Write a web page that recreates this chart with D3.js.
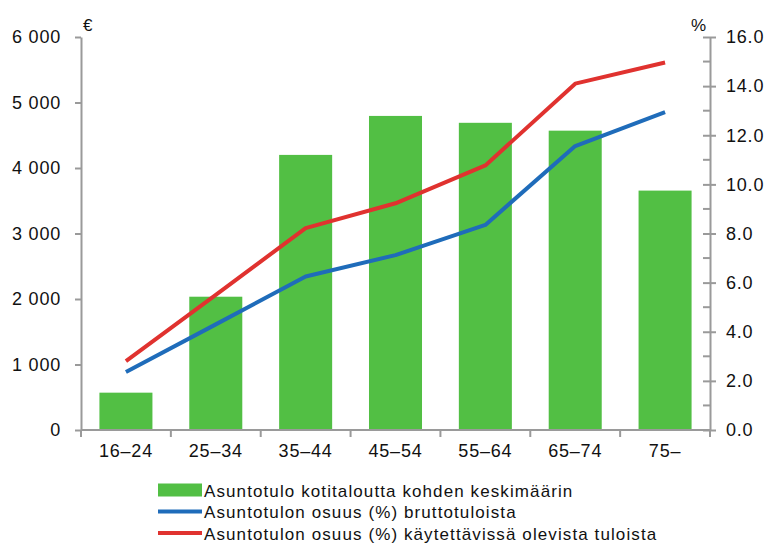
<!DOCTYPE html>
<meta charset="utf-8">
<html>
  <head>
    <style>
      body { margin: 0; background: #fff; }
      text { font-family: "Liberation Sans", Arial, sans-serif; fill: #111; }
      .axis path, .axis line { stroke: #9a9a9a; stroke-width: 2px; }
      .tick text { font-size: 18px; letter-spacing: 0.8px; }
      .legend text { font-size: 17px; letter-spacing: 1.1px; }
    </style>
    <script src="https://d3js.org/d3.v7.min.js"></script>
  </head>
  <body>
    <div id="chart"></div>
    <script type="text/javascript">
      var categories = ["16\u201324", "25\u201334", "35\u201344", "45\u201354", "55\u201364", "65\u201374", "75\u2013"],
          housingIncome = [570, 2035, 4200, 4795, 4690, 4570, 3655],   // € per household
          shareGross = [2.36, 4.3, 6.25, 7.12, 8.35, 11.56, 12.94],    // % of gross income
          shareDisposable = [2.8, 5.5, 8.22, 9.23, 10.77, 14.1, 14.96], // % of disposable income
          leftTicks = [0, 1000, 2000, 3000, 4000, 5000, 6000],
          rightTicks = [0, 2, 4, 6, 8, 10, 12, 14, 16],
          rightMinor = [1, 3, 5, 7, 9, 11, 13, 15],
          legendLabels = ["Asuntotulo kotitaloutta kohden keskimäärin",
                          "Asuntotulon osuus (%) bruttotuloista",
                          "Asuntotulon osuus (%) käytettävissä olevista tuloista"];

      var green = "#52bf44", blue = "#1f6cba", red = "#e0322f";

      var W = 771, H = 549,
          plotLeft = 81, plotRight = 710, plotTop = 37, plotBottom = 430;

      var svg = d3.select("#chart").append("svg")
          .attr("width", W)
          .attr("height", H);

      var x = d3.scaleBand().domain(categories).range([plotLeft, plotRight]).paddingInner(0.41).paddingOuter(0.205);
      var xEdge = d3.scaleBand().domain(categories).range([plotLeft, plotRight]);
      var yL = d3.scaleLinear().domain([0, 6000]).range([plotBottom, plotTop]);
      var yR = d3.scaleLinear().domain([0, 16]).range([plotBottom, plotTop]);

      // bars
      svg.selectAll(".bar")
          .data(housingIncome)
          .enter().append("rect")
            .attr("class", "bar")
            .attr("x", function(d, i) { return x(categories[i]); })
            .attr("y", function(d) { return yL(d); })
            .attr("width", x.bandwidth())
            .attr("height", function(d) { return plotBottom - yL(d); })
            .style("fill", green);

      // left axis
      svg.append("g").attr("class", "axis")
          .attr("transform", "translate(" + plotLeft + ",0)")
          .call(d3.axisLeft(yL).tickValues(leftTicks).tickSize(6).tickSizeOuter(0).tickPadding(14)
                .tickFormat(function(d) { return d === 0 ? "0" : d3.format(",")(d).replace(",", " "); }));

      // right axis
      var gR = svg.append("g").attr("class", "axis")
          .attr("transform", "translate(" + plotRight + ",0)")
          .call(d3.axisRight(yR).tickValues(rightTicks).tickSize(6).tickSizeOuter(0).tickPadding(10)
                .tickFormat(d3.format(".1f")));
      gR.selectAll(".tick line").attr("x1", -7);
      gR.selectAll(".minor")
          .data(rightMinor)
          .enter().append("line")
            .attr("class", "minor")
            .attr("x1", -7).attr("x2", 0)
            .attr("y1", function(d) { return yR(d); })
            .attr("y2", function(d) { return yR(d); });

      // x axis
      var gX = svg.append("g").attr("class", "axis")
          .attr("transform", "translate(0," + plotBottom + ")")
          .call(d3.axisBottom(x).tickSize(0).tickPadding(14));
      gX.select(".domain").attr("d", "M" + plotLeft + ",0H" + plotRight);
      gX.selectAll(".edge")
          .data(categories.concat([null]))
          .enter().append("line")
            .attr("class", "edge")
            .attr("x1", function(d, i) { return i < categories.length ? xEdge(d) : plotRight; })
            .attr("x2", function(d, i) { return i < categories.length ? xEdge(d) : plotRight; })
            .attr("y1", 0).attr("y2", 7);

      // units
      svg.append("text").attr("x", 83).attr("y", 31).style("font-size", "17px").text("€");
      svg.append("text").attr("x", 691).attr("y", 31).style("font-size", "17px").text("%");

      // lines
      var line = d3.line()
          .x(function(d, i) { return x(categories[i]) + x.bandwidth() / 2; })
          .y(function(d) { return yR(d); });

      [[shareGross, blue], [shareDisposable, red]].forEach(function(s) {
        svg.append("path")
            .datum(s[0])
            .attr("d", line)
            .style("fill", "none")
            .style("stroke", s[1])
            .style("stroke-width", 4)
            .style("stroke-linejoin", "round");
      });

      // legend
      var legend = svg.append("g").attr("class", "legend");
      legendLabels.forEach(function(label, i) {
        var cy = 490 + i * 21.5;
        if (i === 0) {
          legend.append("rect").attr("x", 158).attr("y", cy - 6.5).attr("width", 44).attr("height", 13).style("fill", green);
        } else {
          legend.append("line").attr("x1", 158).attr("x2", 202).attr("y1", cy).attr("y2", cy)
              .style("stroke", i === 1 ? blue : red).style("stroke-width", 4);
        }
        legend.append("text").attr("x", 204).attr("y", cy + 6.5).text(label);
      });
    </script>
  </body>
</html>
